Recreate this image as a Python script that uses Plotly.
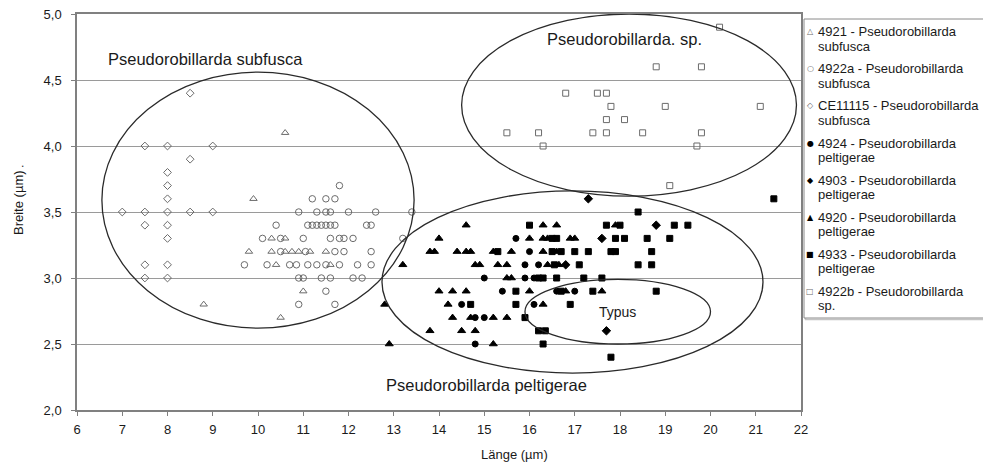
import plotly.graph_objects as go

# ---------------- data ----------------
# 4921 - Pseudorobillarda subfusca (open triangles)
x_4921 = [10.6, 9.9, 9.8, 10.3, 10.6, 10.75, 10.9, 11.15, 11.5, 10.3, 10.6, 10.4, 11.6, 11.0, 8.8, 10.5]
y_4921 = [4.1, 3.6, 3.2, 3.2, 3.2, 3.2, 3.2, 3.2, 3.2, 3.3, 3.3, 3.1, 3.1, 2.9, 2.8, 2.7]

# 4922a - Pseudorobillarda subfusca (open circles)
x_4922a = [11.8,
           11.2, 11.5, 11.7,
           10.9, 11.3, 11.5, 11.6, 12.0, 12.6, 13.4,
           10.4, 11.1, 11.2, 11.3, 11.4, 11.5, 11.6, 11.7, 12.4, 12.5,
           10.1, 10.5, 11.0, 11.6, 11.8, 11.9, 12.1, 13.2,
           10.5, 11.05, 11.7, 11.9, 12.5,
           9.7, 10.2, 10.7, 10.85, 11.1, 11.3, 11.5, 11.8, 12.2, 12.5,
           10.9, 11.0, 11.4, 11.6, 12.1, 12.3,
           11.5,
           10.9, 11.7]
y_4922a = [3.7,
           3.6, 3.6, 3.6,
           3.5, 3.5, 3.5, 3.5, 3.5, 3.5, 3.5,
           3.4, 3.4, 3.4, 3.4, 3.4, 3.4, 3.4, 3.4, 3.4, 3.4,
           3.3, 3.3, 3.3, 3.3, 3.3, 3.3, 3.3, 3.3,
           3.2, 3.2, 3.2, 3.2, 3.2,
           3.1, 3.1, 3.1, 3.1, 3.1, 3.1, 3.1, 3.1, 3.1, 3.1,
           3.0, 3.0, 3.0, 3.0, 3.0, 3.0,
           2.9,
           2.8, 2.8]

# CE11115 - Pseudorobillarda subfusca (open diamonds)
x_ce11115 = [7.0, 7.5, 7.5, 7.5, 7.5, 7.5, 8.0, 8.0, 8.0, 8.0, 8.0, 8.0, 8.0, 8.0, 8.0, 8.5, 8.5, 8.5, 9.0, 9.0]
y_ce11115 = [3.5, 4.0, 3.5, 3.4, 3.1, 3.0, 4.0, 3.8, 3.7, 3.6, 3.5, 3.4, 3.3, 3.1, 3.0, 4.4, 3.9, 3.5, 4.0, 3.5]

# 4924 - Pseudorobillarda peltigerae (filled circles)
x_4924 = [15.7, 16.0, 15.9, 16.2, 15.0, 15.9, 16.1, 15.4, 16.6, 17.0, 14.5, 16.1, 14.8, 15.0, 14.8]
y_4924 = [3.3, 3.2, 3.1, 3.1, 3.0, 3.0, 3.0, 2.9, 2.9, 2.9, 2.8, 2.8, 2.7, 2.7, 2.5]

# 4903 - Pseudorobillarda peltigerae (filled diamonds)
x_4903 = [17.3, 18.8, 17.6, 16.8, 17.7]
y_4903 = [3.6, 3.4, 3.3, 3.1, 2.6]

# 4920 - Pseudorobillarda peltigerae (filled triangles)
x_4920 = [12.8, 12.9, 13.2,
          14.6, 16.3, 16.6, 17.9,
          14.0, 16.0, 16.3, 16.4, 16.9, 17.0,
          13.8, 13.9, 14.4, 14.6, 14.7, 15.2, 15.6, 16.3, 16.6,
          14.8, 14.9, 15.3, 15.5, 16.4, 16.65,
          15.5, 15.6,
          14.0, 14.3, 14.6, 16.0, 16.8, 17.6,
          14.2, 16.3,
          14.3, 14.7, 15.2, 15.5,
          13.8, 14.5, 14.8,
          15.2]
y_4920 = [2.8, 2.5, 3.1,
          3.4, 3.4, 3.4, 3.4,
          3.3, 3.3, 3.3, 3.3, 3.3, 3.3,
          3.2, 3.2, 3.2, 3.2, 3.2, 3.2, 3.2, 3.2, 3.2,
          3.1, 3.1, 3.1, 3.1, 3.1, 3.1,
          3.0, 3.0,
          2.9, 2.9, 2.9, 2.9, 2.9, 2.9,
          2.8, 2.8,
          2.7, 2.7, 2.7, 2.7,
          2.6, 2.6, 2.6,
          2.5]

# 4933 - Pseudorobillarda peltigerae (filled squares)
x_4933 = [21.4,
          18.4,
          16.0, 17.7, 18.0, 19.2, 19.5,
          16.5, 16.6, 17.9, 18.1, 18.6, 19.1,
          15.3, 16.5, 16.7, 17.0, 17.3, 17.8, 17.9, 18.7,
          16.55, 17.1, 18.4, 18.7,
          16.2, 16.3, 16.6, 17.2, 17.6,
          15.7, 16.7, 17.4, 18.8,
          14.7, 15.7, 16.9,
          15.9,
          16.2, 16.35,
          16.3,
          17.8]
y_4933 = [3.6,
          3.5,
          3.4, 3.4, 3.4, 3.4, 3.4,
          3.3, 3.3, 3.3, 3.3, 3.3, 3.3,
          3.2, 3.2, 3.2, 3.2, 3.2, 3.2, 3.2, 3.2,
          3.1, 3.1, 3.1, 3.1,
          3.0, 3.0, 3.0, 3.0, 3.0,
          2.9, 2.9, 2.9, 2.9,
          2.8, 2.8, 2.8,
          2.7,
          2.6, 2.6,
          2.5,
          2.4]

# 4922b - Pseudorobillarda sp. (open squares)
x_4922b = [20.2, 18.8, 19.8, 16.8, 17.5, 17.7, 17.8, 19.0, 21.1, 17.7, 18.1,
           15.5, 16.2, 17.4, 17.7, 18.5, 19.8, 16.3, 19.7, 19.1]
y_4922b = [4.9, 4.6, 4.6, 4.4, 4.4, 4.4, 4.3, 4.3, 4.3, 4.2, 4.2,
           4.1, 4.1, 4.1, 4.1, 4.1, 4.1, 4.0, 4.0, 3.7]

series_names = [
    "4921 - Pseudorobillarda<br>subfusca",
    "4922a - Pseudorobillarda<br>subfusca",
    "CE11115 - Pseudorobillarda<br>subfusca",
    "4924 - Pseudorobillarda<br>peltigerae",
    "4903 - Pseudorobillarda<br>peltigerae",
    "4920 - Pseudorobillarda<br>peltigerae",
    "4933 - Pseudorobillarda<br>peltigerae",
    "4922b - Pseudorobillarda<br>sp.",
]

# group ellipses (centre x, centre y, half width, half height) in data units
ellipse_groups = {
    "subfusca": (10.0, 3.59, 3.45, 0.97),
    "peltigerae": (16.95, 2.97, 4.21, 0.69),
    "sp": (18.2, 4.31, 3.7, 0.69),
    "typus": (17.95, 2.745, 2.05, 0.245),
}

group_labels = [
    ("Pseudorobillarda subfusca", 8.83, 4.66, 16.5),
    ("Pseudorobillarda. sp.", 18.1, 4.81, 16.5),
    ("Typus", 17.95, 2.74, 14),
    ("Pseudorobillarda peltigerae", 15.04, 2.19, 16.5),
]

x_ticks = list(range(6, 23))
y_ticks = [2.0, 2.5, 3.0, 3.5, 4.0, 4.5, 5.0]

# ---------------- figure ----------------
FONT = "Liberation Sans, Arial, sans-serif"
OPEN_LINE = "#6b6b6b"
PAGE_OFFSET = 8                      # default body margin of the html page
W, H = 991 - PAGE_OFFSET, 462 - PAGE_OFFSET
ML, MR, MT, MB = 77 - PAGE_OFFSET, 190, 14 - PAGE_OFFSET, 52
PW, PH = W - ML - MR, H - MT - MB
PLOT_LEFT, PLOT_BOTTOM = 77, 410     # plot area in window pixels


def px_x(px):   # window pixel -> paper x
    return (px - PLOT_LEFT) / PW


def px_y(py):   # window pixel -> paper y
    return (PLOT_BOTTOM - py) / PH


styles = [
    ("triangle-up-open", 6.5, OPEN_LINE, "△"),
    ("circle-open", 6.5, OPEN_LINE, "○"),
    ("diamond-open", 6, OPEN_LINE, "◇"),
    ("circle", 6, "black", "●"),
    ("diamond", 6.5, "black", "◆"),
    ("triangle-up", 7, "black", "▲"),
    ("square", 6, "black", "■"),
    ("square-open", 6, OPEN_LINE, "□"),
]
series_xy = [
    (x_4921, y_4921), (x_4922a, y_4922a), (x_ce11115, y_ce11115),
    (x_4924, y_4924), (x_4903, y_4903), (x_4920, y_4920),
    (x_4933, y_4933), (x_4922b, y_4922b),
]

fig = go.Figure()

for i, ((xs, ys), name, (sym, size, col, _g)) in enumerate(zip(series_xy, series_names, styles)):
    fig.add_trace(go.Scatter(
        x=xs, y=ys, mode="markers", name=name.replace("<br>", " "),
        showlegend=False,
        marker=dict(symbol=sym, size=size, color=col,
                    line=dict(color=col, width=1)),
    ))

for key, (cx, cy, a, b) in ellipse_groups.items():
    fig.add_shape(type="circle", xref="x", yref="y",
                  x0=cx - a, x1=cx + a, y0=cy - b, y1=cy + b,
                  line=dict(color="#2a2a2a", width=1.3), layer="above")

for text, tx, ty, fs in group_labels:
    fig.add_annotation(x=tx, y=ty, xref="x", yref="y", text=text, showarrow=False,
                       font=dict(family=FONT, size=fs, color="#1a1a1a"))

# ---- legend box (drawn as in the reference) ----
fig.add_shape(type="rect", xref="paper", yref="paper",
              x0=px_x(805.5), x1=px_x(989.5), y0=px_y(319.5), y1=px_y(20.5),
              line=dict(color="#c4c4c4", width=1.5), fillcolor="rgba(0,0,0,0)", layer="below")
fig.add_shape(type="rect", xref="paper", yref="paper",
              x0=px_x(804), x1=px_x(988), y0=px_y(318), y1=px_y(19),
              line=dict(color="#8a8a8a", width=1), fillcolor="white", layer="below")
for i, (name, st) in enumerate(zip(series_names, styles)):
    line1, line2 = name.split("<br>")
    y1 = 31.7 + 37.1 * i
    fig.add_annotation(x=px_x(810), y=px_y(y1), xref="paper", yref="paper",
                       text=st[3], showarrow=False, xanchor="center", yanchor="middle",
                       font=dict(family="DejaVu Sans", size=8, color=st[2]))
    fig.add_annotation(x=px_x(816), y=px_y(y1), xref="paper", yref="paper",
                       text=line1, showarrow=False, xanchor="left", yanchor="middle",
                       font=dict(family=FONT, size=13, color="#1a1a1a"))
    fig.add_annotation(x=px_x(816), y=px_y(y1 + 14.5), xref="paper", yref="paper",
                       text=line2, showarrow=False, xanchor="left", yanchor="middle",
                       font=dict(family=FONT, size=13, color="#1a1a1a"))

# axis titles (placed as in the reference)
fig.add_annotation(x=px_x(515), y=px_y(455), xref="paper", yref="paper", text="Länge (µm)",
                   showarrow=False, yanchor="middle", xanchor="center",
                   font=dict(family=FONT, size=13, color="#1a1a1a"))
fig.add_annotation(x=px_x(18), y=px_y(203), xref="paper", yref="paper", text="Breite (µm)",
                   showarrow=False, textangle=-90, yanchor="middle", xanchor="center",
                   font=dict(family=FONT, size=13, color="#1a1a1a"))
fig.add_annotation(x=px_x(22), y=px_y(163), xref="paper", yref="paper", text=".",
                   showarrow=False, yanchor="middle", xanchor="center",
                   font=dict(family=FONT, size=12, color="#333"))

fig.update_layout(
    width=W, height=H,
    margin=dict(l=ML, r=MR, t=MT, b=MB, autoexpand=False),
    paper_bgcolor="white", plot_bgcolor="white",
    separators=", ",
    font=dict(family=FONT, size=13, color="#1a1a1a"),
    showlegend=False,
    xaxis=dict(
        range=[6, 22], tickmode="array", tickvals=x_ticks,
        ticks="outside", ticklen=4, tickcolor="#808080",
        showline=True, linecolor="#808080", linewidth=1.5, mirror=True,
        showgrid=False, zeroline=False, ticklabelstandoff=3,
        ticklabeloverflow="allow",
        tickfont=dict(size=13),
    ),
    yaxis=dict(
        range=[2, 5], tickmode="array", tickvals=y_ticks, tickformat=".1f",
        ticks="outside", ticklen=4, tickcolor="#808080",
        showline=True, linecolor="#808080", linewidth=1.5, mirror=True,
        showgrid=True, gridcolor="#9a9a9a", gridwidth=1, zeroline=False,
        ticklabelstandoff=7, ticklabeloverflow="allow",
        tickfont=dict(size=13),
    ),
)

fig.write_html("out.html")
